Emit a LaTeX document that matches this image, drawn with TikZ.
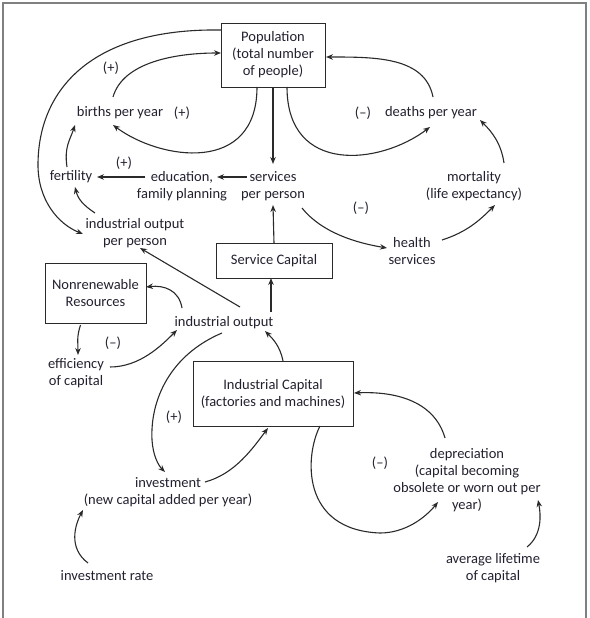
\documentclass[tikz,border=0pt]{standalone}
\usepackage{fontspec}
\setmainfont{Carlito}
\usetikzlibrary{arrows.meta,calc}
\definecolor{txt}{HTML}{22212F}
\definecolor{ln}{HTML}{2A2A2A}
\definecolor{frm}{HTML}{808080}
\begin{document}
\begin{tikzpicture}[x=1pt,y=-1pt,
  every node/.style={font=\fontsize{14.5}{17}\selectfont, text=txt, inner sep=0pt, outer sep=0pt, align=center},
  boxnode/.style={draw=ln, line width=0.9pt},
  conn/.style={draw=ln, line width=1.1pt, -{Stealth[length=7pt,width=5.5pt]}},
  thick conn/.style={conn, line width=1.8pt}
]
\useasboundingbox (0,0) rectangle (589,618);
\draw[frm, line width=1.4pt] (3,618) -- (3,3) -- (586,3) -- (586,618);

% boxes
\node[boxnode, minimum width=104pt, minimum height=64pt] (pop) at (273,55) {Population\\(total number\\of people)};
\node[boxnode, minimum width=116pt, minimum height=35pt] (svcap) at (274,260.5) {Service Capital};
\node[boxnode, minimum width=101pt, minimum height=60pt] (nonren) at (95.5,293) {Nonrenewable\\Resources};
\node[boxnode, minimum width=160pt, minimum height=65pt] (indcap) at (273,393.5) {Industrial Capital\\(factories and machines)};

% text nodes
\node (births) at (120,113) {births per year};
\node (plusA) at (182,113) {(+)};
\node (plusB) at (111,68) {(+)};
\node (minusA) at (363,113) {(--)};
\node (deaths) at (431,113) {deaths per year};
\node (fert) at (71,177) {fertility};
\node (edu) at (182,186) {education,\\family planning};
\node (serv) at (273,186) {services\\per person};
\node (plusC) at (124,163) {(+)};
\node (mort) at (474,186) {mortality\\(life expectancy)};
\node (minusB) at (361,208) {(--)};
\node (health) at (412,251) {health\\services};
\node (iopp) at (135,233) {industrial output\\per person};
\node (io) at (224,323) {industrial output};
\node (minusC) at (113,343) {(--)};
\node (eff) at (76,373) {efficiency\\of capital};
\node (plusD) at (174,417) {(+)};
\node (invest) at (168,492) {investment\\(new capital added per year)};
\node (invrate) at (107,576) {investment rate};
\node (minusD) at (380,463) {(--)};
\node (depr) at (467,480) {depreciation\\(capital becoming\\obsolete or worn out per\\year)};
\node (avglife) at (493,568) {average lifetime\\of capital};

% connectors
\draw[conn] ($(pop.west)+(0,-25)$) .. controls +(-130,-2) and +(0,-75) .. (38,165) .. controls +(0,35) and +(-25,-10) .. ($(iopp)+(-52,1)$);
\draw[conn] ($(births)+(-7,-16)$) .. controls +(10,-35) and +(-45,0) .. ($(pop.west)+(0,-2)$);
\draw[conn] ($(pop)+(-16,32)$) .. controls +(0,88) and +(47,35) .. ($(births)+(-7,12)$);
\draw[conn] ($(pop)+(14,32)$) .. controls +(0,88) and +(-50,38) .. ($(deaths)+(-1,14)$);
\draw[conn] ($(deaths)+(2,-16)$) .. controls +(-8,-40) and +(50,0) .. ($(pop.east)+(1,2)$);
\draw[conn] (pop.south) -- ($(serv)+(0,-22)$);
\draw[conn] ($(serv)+(-26,-9)$) -- ($(edu)+(35,-9)$);
\draw[conn] ($(edu)+(-37,-9)$) -- ($(fert)+(26,0)$);
\draw[conn] ($(fert)+(-4,-10)$) .. controls +(-3,-20) and +(-5,15) .. ($(births)+(-45,12)$);
\draw[conn] ($(iopp)+(-40,-20)$) .. controls +(-12,-8) and +(3,12) .. ($(fert)+(4,10)$);
\draw[conn] ($(serv)+(29,22)$) .. controls +(20,25) and +(-30,-5) .. ($(health)+(-25,-3)$);
\draw[conn] ($(health)+(30,-11)$) .. controls +(25,-8) and +(-15,15) .. ($(mort)+(21,19)$);
\draw[conn] ($(mort)+(30,-23)$) .. controls +(-3,-20) and +(12,12) .. ($(deaths)+(49,7)$);
\draw[conn] (svcap.north) -- ($(serv)+(0,19)$);
\draw[thick conn] ($(io)+(47,-11)$) -- ($(svcap.south)+(-3,0)$);
\draw[conn] ($(io)+(16,-16)$) -- ($(iopp)+(5,15)$);
\draw[conn] ($(io)+(-42,-15)$) .. controls +(-3,-18) and +(18,-2) .. ($(nonren.east)+(0,-6)$);
\draw[conn] ($(nonren.south)+(-15,2)$) .. controls +(-4,12) and +(0,-12) .. ($(eff)+(2,-18)$);
\draw[conn] ($(eff)+(34,-6)$) .. controls +(30,0) and +(-15,15) .. ($(io)+(-47,7)$);
\draw[conn] ($(io)+(-2,10)$) .. controls +(-52,22) and +(-2,-40) .. (152,440) .. controls +(1,15) and +(-7,-7) .. ($(invest)+(-3,-20)$);
\draw[conn] ($(invest)+(37,-10)$) .. controls +(30,-8) and +(-15,20) .. ($(indcap.south)+(-5,2)$);
\draw[conn] ($(indcap.north)+(10,0)$) .. controls +(-3,-15) and +(8,8) .. ($(io)+(41,8)$);
\draw[conn] ($(depr)+(-22,-42)$) .. controls +(-10,-35) and +(45,-2) .. ($(indcap.east)+(1,-0.5)$);
\draw[conn] ($(indcap.south)+(47,0)$) .. controls +(-15,29) and +(-80,-3) .. (380,533) .. controls +(25,0) and +(-13,16) .. ($(depr)+(-29,22)$);
\draw[conn] ($(avglife)+(34,-21)$) .. controls +(15,-12) and +(3,15) .. ($(depr)+(71,20)$);
\draw[conn] ($(invrate)+(-19,-13)$) .. controls +(-20,-15) and +(-8,15) .. ($(invest)+(-85,18)$);
\end{tikzpicture}
\end{document}
